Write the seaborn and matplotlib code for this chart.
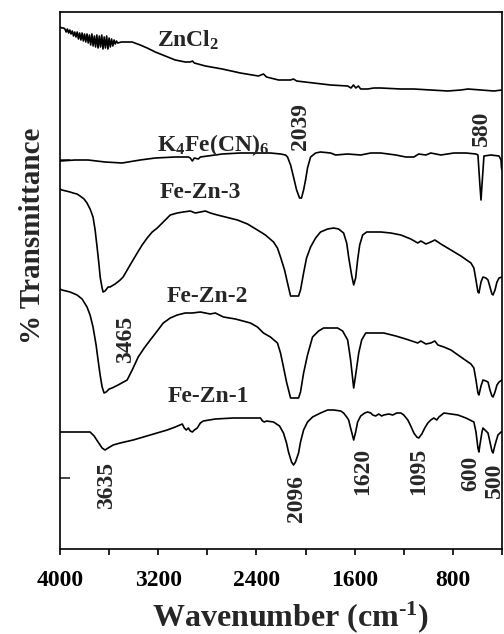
import numpy as np
import pandas as pd
import matplotlib
matplotlib.use("Agg")
import matplotlib.pyplot as plt
import seaborn as sns

# ---------------- data (wavenumber cm-1, transmittance arbitrary offset units) ----------------
zncl2_w = [4000, 3984, 3970,
           3960, 3950, 3940, 3930, 3920, 3910, 3900, 3890, 3880, 3870, 3860, 3850, 3840, 3830,
           3820, 3810, 3800, 3790, 3780, 3770, 3760, 3750, 3740, 3730, 3720, 3710, 3700, 3690,
           3680, 3670, 3660, 3650, 3640, 3630, 3620, 3610, 3600, 3590, 3580, 3570, 3560, 3550,
           3540, 3530,
           3500, 3412, 3347, 3290, 3224, 3143, 3061, 2980, 2939, 2922, 2906, 2816, 2678, 2531,
           2384, 2343, 2318, 2220, 2122, 2098, 2073, 1935, 1796, 1657, 1630, 1610, 1590, 1570,
           1551, 1494, 1445, 1388, 1224, 1118, 980, 841, 735, 678, 571, 465, 400]
zncl2_t = [522, 521, 521,
           520, 517, 520, 516, 519, 515, 518, 513, 517, 512, 517, 510, 516, 509,
           516, 508, 515, 507, 515, 506, 514, 504, 515, 503, 513, 502, 514, 501,
           513, 502, 514, 500, 512, 501, 513, 500, 511, 502, 510, 503, 509, 505,
           508, 506,
           507, 507, 504, 501, 497, 493, 489, 487, 487, 488, 486, 483, 480, 476,
           473, 475, 472, 469, 469, 470, 468, 466, 464, 463, 461, 464, 461, 463,
           460, 460, 461, 461, 460, 460, 459, 458, 459, 460, 459, 458, 459]

k4fe_w = [4000, 3878, 3771, 3633, 3494, 3347, 3224, 3061, 2955, 2939, 2922, 2906, 2873, 2857,
          2678, 2531, 2408, 2286, 2204, 2163, 2147, 2122, 2098, 2073, 2049, 2033, 2016, 2000,
          1984, 1959, 1918, 1878, 1796, 1755, 1657, 1551, 1469, 1388, 1265, 1184, 1118, 1078,
          1020, 980, 898, 792, 694, 612, 596, 580, 571, 563, 547, 490, 424, 408, 404, 400]
k4fe_t = [388, 389, 389, 387, 386, 389, 391, 392, 392, 391, 388, 391, 390, 392,
          395, 396, 396, 396, 395, 394, 392, 384, 372, 359, 351, 351, 359, 369,
          381, 392, 396, 397, 396, 394, 395, 394, 396, 396, 394, 392, 392, 395,
          394, 396, 394, 396, 396, 395, 394, 364, 349, 364, 393, 394, 393, 389, 381, 379]

fezn3_w = [4000, 3984, 3951, 3918, 3894, 3861, 3837, 3804, 3780, 3755, 3731, 3714, 3698, 3682,
           3673, 3657, 3649, 3633, 3608, 3592, 3551, 3510, 3486, 3429, 3371, 3331, 3290, 3249,
           3208, 3159, 3102, 3045, 2996, 2939, 2898, 2857, 2816, 2776, 2718, 2653, 2555, 2473,
           2392, 2327, 2261, 2229, 2204, 2171, 2147, 2122, 2090, 2057, 2041, 2016, 1992, 1959,
           1918, 1878, 1820, 1771, 1731, 1690, 1665, 1649, 1625, 1608, 1592, 1576, 1559, 1535,
           1502, 1469, 1388, 1306, 1224, 1143, 1086, 1061, 1020, 980, 947, 922, 898, 857, 816,
           735, 653, 629, 612, 596, 588, 571, 555, 531, 514, 498, 482, 473, 457, 441, 424, 400]
fezn3_t = [360, 359, 358, 357, 356, 355, 353, 350, 346, 340, 332, 319, 302, 284,
           272, 261, 257, 258, 262, 262, 265, 269, 272, 284, 296, 304, 311, 317,
           321, 327, 334, 336, 337, 338, 336, 337, 338, 336, 334, 332, 329, 325,
           319, 314, 307, 301, 292, 279, 266, 253, 253, 253, 259, 276, 291, 302,
           311, 317, 320, 321, 320, 316, 306, 292, 274, 264, 271, 289, 304, 314,
           317, 317, 317, 316, 314, 310, 306, 308, 305, 307, 309, 307, 305, 302, 299,
           293, 286, 281, 269, 257, 256, 267, 272, 271, 269, 262, 255, 254, 259, 267, 271, 272]

fezn2_w = [4000, 3984, 3918, 3861, 3820, 3780, 3755, 3731, 3706, 3690, 3673, 3657, 3641, 3624,
           3600, 3576, 3527, 3453, 3412, 3363, 3314, 3265, 3208, 3159, 3102, 3045, 2980, 2922,
           2857, 2776, 2735, 2669, 2571, 2449, 2392, 2343, 2286, 2229, 2204, 2180, 2155, 2122,
           2090, 2057, 2041, 2016, 1984, 1943, 1894, 1853, 1796, 1739, 1698, 1657, 1633, 1608,
           1592, 1567, 1543, 1510, 1453, 1363, 1265, 1184, 1086, 1061, 1020, 980, 947, 922, 873,
           816, 735, 653, 629, 612, 596, 588, 571, 555, 531, 514, 498, 482, 473, 457, 441, 424, 400]
fezn2_t = [260, 259, 257, 254, 250, 242, 234, 222, 204, 189, 174, 162, 156, 157,
           160, 161, 164, 169, 179, 192, 201, 209, 218, 226, 231, 234, 236, 236,
           237, 235, 236, 232, 230, 226, 222, 216, 212, 206, 196, 182, 167, 151,
           151, 151, 157, 176, 194, 212, 218, 221, 221, 221, 218, 209, 189, 161,
           174, 196, 209, 216, 216, 216, 213, 210, 206, 208, 205, 206, 208, 204, 202,
           199, 192, 185, 181, 169, 156, 154, 163, 169, 168, 167, 159, 153, 152, 157, 164, 167, 169]

fezn1_w = [4000, 3878, 3755, 3722, 3690, 3657, 3633, 3608, 3567, 3510, 3404, 3265, 3127, 3061,
           3004, 2988, 2971, 2955, 2939, 2922, 2906, 2882, 2857, 2833, 2735, 2588, 2449, 2367,
           2351, 2335, 2318, 2261, 2212, 2180, 2155, 2139, 2114, 2098, 2082, 2057, 2041, 2016,
           1984, 1943, 1878, 1820, 1771, 1714, 1690, 1665, 1649, 1633, 1608, 1592, 1576, 1551,
           1518, 1494, 1469, 1453, 1429, 1404, 1380, 1363, 1323, 1290, 1257, 1224, 1200, 1167,
           1143, 1118, 1094, 1078, 1053, 1029, 1004, 980, 955, 931, 914, 873, 816, 759, 694,
           629, 612, 596, 588, 580, 563, 555, 539, 514, 498, 482, 473, 457, 433, 408, 400]
fezn1_t = [117, 117, 117, 113, 107, 101, 99, 101, 104, 106, 109, 114, 119, 122,
           125, 121, 119, 121, 118, 117, 119, 121, 126, 128, 130, 131, 131, 131,
           128, 127, 128, 127, 123, 116, 106, 97, 87, 84, 87, 96, 107, 119,
           127, 132, 136, 139, 139, 138, 136, 132, 129, 121, 109, 117, 127, 133,
           136, 137, 136, 134, 133, 135, 133, 134, 135, 134, 136, 136, 134, 129,
           123, 116, 112, 111, 115, 121, 126, 129, 131, 129, 132, 136, 135, 134, 131,
           127, 117, 101, 97, 104, 117, 121, 119, 116, 107, 98, 96, 104, 114, 117, 117]

series_names = ["ZnCl2", "K4Fe(CN)6", "Fe-Zn-3", "Fe-Zn-2", "Fe-Zn-1"]
series_labels = [r"ZnCl$_2$", r"K$_4$Fe(CN)$_6$", "Fe-Zn-3", "Fe-Zn-2", "Fe-Zn-1"]
label_w = [2955, 2751, 2857, 2800, 2792]
label_t = [509, 404, 356, 252, 152]

peak_text = ["2039", "580", "3465", "3635", "2096", "1620", "1095", "600", "500"]
peak_w = [2041, 571, 3469, 3624, 2073, 1535, 1078, 653, 462]
peak_t = [423, 421, 210, 64, 51, 78, 78, 76, 69]

# ---------------- styling ----------------
sns.set_style("ticks")
plt.rcParams["font.family"] = ["Liberation Serif", "DejaVu Serif"]
plt.rcParams["font.weight"] = "bold"
plt.rcParams["mathtext.fontset"] = "custom"
plt.rcParams["mathtext.rm"] = "Liberation Serif:bold"
plt.rcParams["mathtext.bf"] = "Liberation Serif:bold"
plt.rcParams["mathtext.it"] = "Liberation Serif:bold"
plt.rcParams["mathtext.default"] = "rm"

frames = []
for name, w, t in [(series_names[0], zncl2_w, zncl2_t),
                   (series_names[1], k4fe_w, k4fe_t),
                   (series_names[2], fezn3_w, fezn3_t),
                   (series_names[3], fezn2_w, fezn2_t),
                   (series_names[4], fezn1_w, fezn1_t)]:
    frames.append(pd.DataFrame({"wavenumber": w, "T": t, "sample": name}))
df = pd.concat(frames, ignore_index=True)

fig = plt.figure(figsize=(5.04, 6.34), dpi=100)
ax = fig.add_axes([60 / 504, 1 - 549 / 634, 442 / 504, 537 / 634])

sns.lineplot(data=df, x="wavenumber", y="T", units="sample", estimator=None, sort=False,
             color="black", linewidth=1.2, ax=ax, legend=False)

ax.set_xlim(4000, 400)
ax.set_ylim(0, 537)

for s in ax.spines.values():
    s.set_linewidth(1.2)
    s.set_color("black")

ax.set_xticks([4000, 3200, 2400, 1600, 800])
ax.set_xticks([3600, 2800, 2000, 1200, 400], minor=True)
ax.tick_params(axis="x", which="both", direction="out", length=4, width=1.2, pad=11,
               labelsize=17, colors="black")
ax.set_yticks([71, 389])
ax.set_yticklabels([])
ax.tick_params(axis="y", which="both", direction="in", length=7, width=1.2)
for lab in ax.get_xticklabels():
    lab.set_fontweight("bold")

ax.set_xlabel(r"Wavenumber (cm$^{\text{-1}}$)", fontsize=23, fontweight="bold")
ax.xaxis.set_label_coords(0.5 + 10 / 442, -0.093)
ax.xaxis.label.set_va("top")
ax.set_ylabel("% Transmittance", fontsize=21, fontweight="bold")
ax.yaxis.set_label_coords(-0.032, 0.583)

for txt, w, t in zip(series_labels, label_w, label_t):
    ax.text(w, t, txt, fontsize=17, fontweight="bold", ha="center", va="center")

for txt, w, t in zip(peak_text, peak_w, peak_t):
    ax.text(w, t, txt, fontsize=17, fontweight="bold", ha="center", va="center", rotation=90)

fig.savefig("out.png", dpi=100)
